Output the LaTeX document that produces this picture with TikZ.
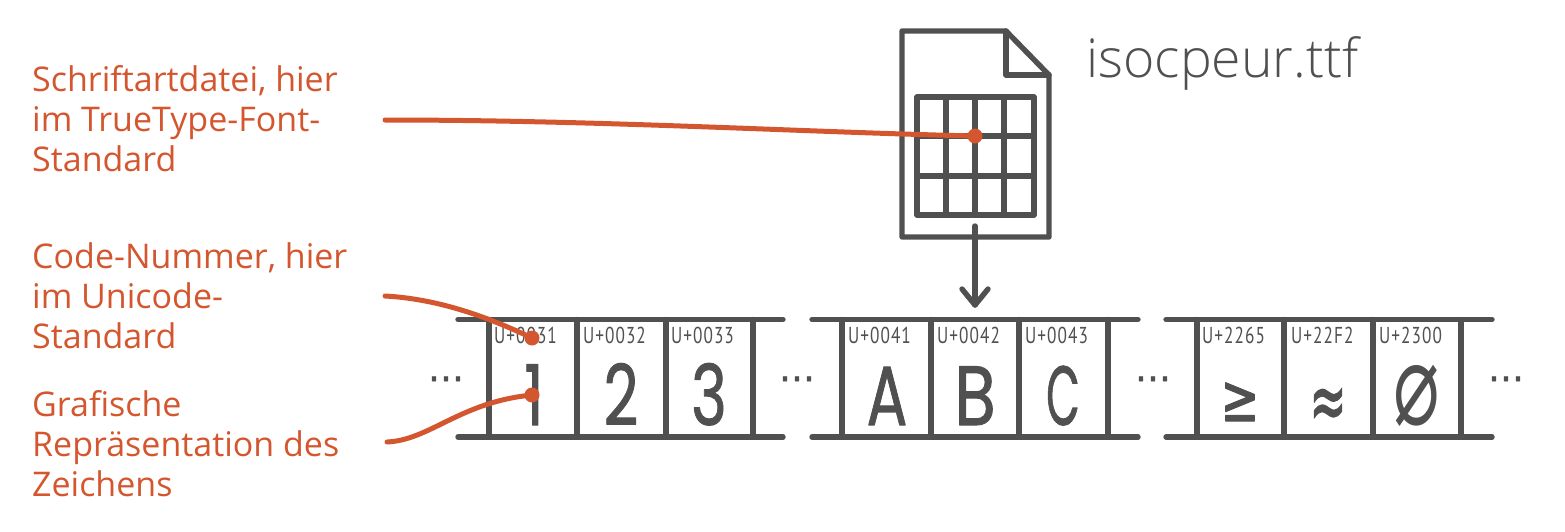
\documentclass[tikz,border=0pt]{standalone}
\usepackage{fontspec}
\setmainfont{Open Sans}
\newfontfamily\lightfont{Open Sans Light}
\newfontfamily\glyphfont[FakeBold=1.2]{Poppins}
\newfontfamily\symbolfont[FakeBold=1.6]{DejaVu Sans}
\newfontfamily\thinsymbolfont{DejaVu Sans}
\newfontfamily\codefont[LetterSpace=6]{PT Sans}
\definecolor{inkgray}{HTML}{505050}
\definecolor{notered}{HTML}{D4562F}
\begin{document}
\begin{tikzpicture}[x=1pt,y=-1pt,line cap=round,line join=round,
    frame line/.style={draw=inkgray,line width=5.4pt},
    note line/.style={draw=notered,line width=5pt},
    note dot/.style={circle,fill=notered,inner sep=0pt,minimum size=15pt},
    note text/.style={anchor=north west,align=left,inner sep=0pt,text=notered,font=\fontsize{34}{40}\selectfont},
    code/.style={anchor=base west,inner sep=0pt,text=inkgray,xscale=.75,transform shape,font=\codefont\fontsize{23}{23}\selectfont},
    glyph/.style={anchor=base,inner sep=0pt,text=inkgray,xscale=.72,transform shape,font=\glyphfont\fontsize{84}{84}\selectfont},
    symbol/.style={anchor=base,inner sep=0pt,text=inkgray,transform shape,font=\symbolfont\fontsize{66}{66}\selectfont},
    more/.style={anchor=base,inner sep=0pt,text=inkgray,font=\symbolfont\fontsize{36}{36}\selectfont}]
  \useasboundingbox (0,0) rectangle (1565,531);

  % file icon
  \draw[frame line] (902,31) -- (1006,31) -- (1049,75) -- (1049,237) -- (902,237) -- cycle;
  \draw[frame line] (1006,31) -- (1006,75) -- (1049,75);
  \draw[frame line] (917,97) rectangle (1034,215);
  \draw[frame line] (946,97) -- (946,215);
  \draw[frame line] (975,97) -- (975,215);
  \draw[frame line] (1004,97) -- (1004,215);
  \draw[frame line] (917,136) -- (1034,136);
  \draw[frame line] (917,176) -- (1034,176);
  \node[anchor=base west,inner sep=0pt,text=inkgray,font=\lightfont\fontsize{53.5}{53.5}\selectfont] (filename) at (1086,77) {isocpeur.ttf};

  % arrow from file to table
  \coordinate (fileout) at (975,226);
  \coordinate (tablein) at (975,305);
  \draw[frame line] (fileout) -- (tablein);
  \draw[frame line] (962,289) -- (tablein) -- (988,289);

  % first strip
  \draw[frame line] (458,319.5) -- (783,319.5);
  \draw[frame line] (458,437) -- (783,437);
  \draw[frame line] (489,319.5) -- (489,437);
  \draw[frame line] (577,319.5) -- (577,437);
  \draw[frame line] (666,319.5) -- (666,437);
  \draw[frame line] (753,319.5) -- (753,437);
  \node[code] (code1) at (494,343) {U+0031};
  \node[code] (code2) at (583,343) {U+0032};
  \node[code] (code3) at (671,343) {U+0033};
  \node[glyph] (glyph1) at (534,425) {1};
  \node[glyph] (glyph2) at (621,425) {2};
  \node[glyph] (glyph3) at (709,425) {3};

  % second strip
  \draw[frame line] (812,319.5) -- (1138,319.5);
  \draw[frame line] (812,437) -- (1138,437);
  \draw[frame line] (842,319.5) -- (842,437);
  \draw[frame line] (931,319.5) -- (931,437);
  \draw[frame line] (1019,319.5) -- (1019,437);
  \draw[frame line] (1108,319.5) -- (1108,437);
  \node[code] (codeA) at (848,343) {U+0041};
  \node[code] (codeB) at (937,343) {U+0042};
  \node[code] (codeC) at (1025,343) {U+0043};
  \node[glyph] (glyphA) at (887,425) {A};
  \node[glyph,xscale=1.12] (glyphB) at (975,425) {B};
  \node[glyph,xscale=.72] (glyphC) at (1063,425) {C};

  % third strip
  \draw[frame line] (1166,319.5) -- (1492,319.5);
  \draw[frame line] (1166,437) -- (1492,437);
  \draw[frame line] (1197,319.5) -- (1197,437);
  \draw[frame line] (1284,319.5) -- (1284,437);
  \draw[frame line] (1373,319.5) -- (1373,437);
  \draw[frame line] (1461,319.5) -- (1461,437);
  \node[code] (codeGe) at (1202,343) {U+2265};
  \node[code] (codeApprox) at (1291,343) {U+22F2};
  \node[code] (codeDia) at (1379,343) {U+2300};
  \node[symbol,xscale=.7] (glyphGe) at (1240,421) {≥};
  \node[symbol,xscale=.67,yscale=1.25] (glyphApprox) at (1328,429) {≈};
  \node[symbol,xscale=1.17,yscale=1.75,font=\thinsymbolfont\fontsize{66}{66}\selectfont] (glyphDia) at (1417,424) {⌀};

  % dots between the strips
  \node[more] (more1) at (446,381) {…};
  \node[more] (more2) at (797,381) {…};
  \node[more] (more3) at (1153,381) {…};
  \node[more] (more4) at (1506,381) {…};

  % notes
  \node[note text] (fontnote) at (32,65) {Schriftartdatei, hier\\im TrueType-Font-\\Standard};
  \node[note text] (codenote) at (32,242) {Code-Nummer, hier\\im Unicode-\\Standard};
  \node[note text] (glyphnote) at (32,390) {Grafische\\Repräsentation des\\Zeichens};

  \coordinate (fontstart) at (385,120);
  \coordinate (codestart) at (385,296);
  \coordinate (glyphstart) at (387,442);
  \node[note dot] (fontdot) at (975,136) {};
  \node[note dot] (codedot) at (532,338) {};
  \node[note dot] (glyphdot) at (532,395) {};

  \draw[note line] (fontstart) .. controls (600,120) and (800,132) .. (fontdot.center);
  \draw[note line] (codestart) .. controls (440,299) and (490,318) .. (codedot.center);
  \draw[note line] (glyphstart) .. controls (430,440) and (460,402) .. (glyphdot.center);
\end{tikzpicture}
\end{document}
